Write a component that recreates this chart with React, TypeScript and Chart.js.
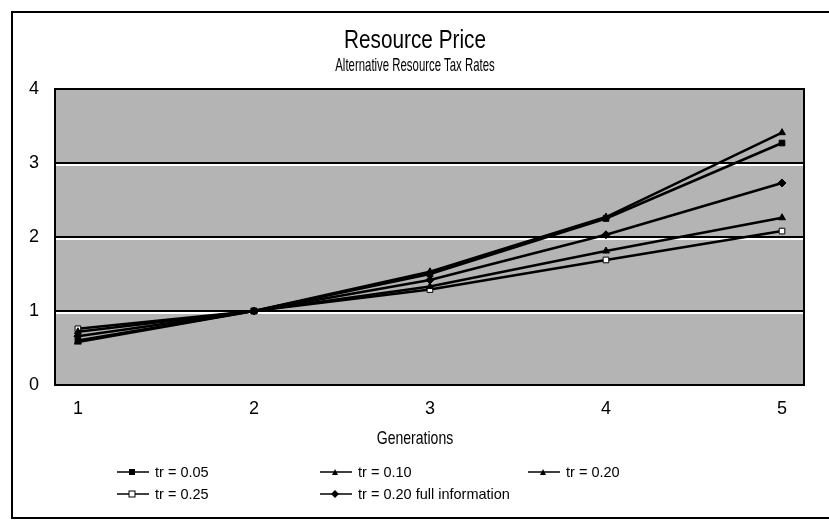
import React, { useEffect, useRef } from "react";
import { Chart, registerables } from "chart.js";

Chart.register(...registerables);

const generations = [1, 2, 3, 4, 5];
const xTickLabels = ["1", "2", "3", "4", "5"];
const yTickValues = [0, 1, 2, 3, 4];

const tr005 = [0.6, 1.0, 1.5, 2.25, 3.27];
const tr010 = [0.58, 1.0, 1.53, 2.27, 3.41];
const tr020 = [0.72, 1.0, 1.33, 1.81, 2.26];
const tr025 = [0.76, 1.0, 1.29, 1.69, 2.08];
const tr020full = [0.66, 1.0, 1.42, 2.03, 2.73];

const seriesNames = ["tr = 0.05", "tr = 0.10", "tr = 0.20", "tr = 0.25", "tr = 0.20 full information"];

const FONT = "'Liberation Sans', Arial, sans-serif";

const framePlugin = {
  id: "framePlugin",
  beforeDraw(chart: any) {
    const { ctx, chartArea } = chart;
    ctx.save();
    ctx.fillStyle = "#ffffff";
    ctx.fillRect(0, 0, chart.width, chart.height);
    ctx.strokeStyle = "#000";
    ctx.lineWidth = 2;
    ctx.beginPath();
    ctx.moveTo(12, 519);
    ctx.lineTo(12, 12);
    ctx.lineTo(829, 12);
    ctx.moveTo(12, 518);
    ctx.lineTo(829, 518);
    ctx.stroke();
    ctx.fillStyle = "#b4b4b4";
    ctx.fillRect(chartArea.left, chartArea.top, chartArea.right - chartArea.left, chartArea.bottom - chartArea.top);
    ctx.restore();
  },
  beforeDatasetsDraw(chart: any) {
    const { ctx, chartArea, scales } = chart;
    ctx.save();
    ctx.strokeStyle = "#fff";
    ctx.lineWidth = 2;
    yTickValues.slice(1, -1).forEach((v) => {
      const y = scales.y.getPixelForValue(v) + 2;
      ctx.beginPath();
      ctx.moveTo(chartArea.left, y);
      ctx.lineTo(chartArea.right, y);
      ctx.stroke();
    });
    ctx.restore();
  },
  afterDatasetsDraw(chart: any) {
    const { ctx, chartArea } = chart;
    ctx.save();
    ctx.strokeStyle = "#000";
    ctx.lineWidth = 2;
    ctx.strokeRect(chartArea.left, chartArea.top, chartArea.right - chartArea.left, chartArea.bottom - chartArea.top);
    ctx.restore();
  },
};

function LegendSample({ kind }: { kind: number }) {
  const m = (() => {
    switch (kind) {
      case 0:
        return <rect x={12} y={2} width={6} height={6} fill="#000" />;
      case 1:
        return <polygon points="15,2 18,8 12,8" fill="#000" />;
      case 2:
        return <polygon points="15,2 18,8 12,8" fill="#000" />;
      case 3:
        return <rect x={12} y={2} width={6} height={6} fill="#fff" stroke="#000" strokeWidth={1} />;
      default:
        return <polygon points="15,1 19,5 15,9 11,5" fill="#000" />;
    }
  })();
  return (
    <svg width={32} height={10} style={{ display: "block" }}>
      <line x1={0} y1={5} x2={32} y2={5} stroke="#000" strokeWidth={1.5} />
      {m}
    </svg>
  );
}

export default function App() {
  const ref = useRef<HTMLCanvasElement | null>(null);

  useEffect(() => {
    if (!ref.current) return;
    const mk = (label: string, data: number[], pointStyle: string, bg: string) => ({
      label,
      data: data.map((v, i) => ({ x: generations[i], y: v })),
      borderColor: "#000",
      backgroundColor: bg,
      pointBackgroundColor: bg,
      pointBorderColor: "#000",
      pointBorderWidth: 1,
      borderWidth: 2.5,
      pointStyle,
      pointRadius: 4,
      tension: 0,
    });
    const chart = new Chart(ref.current, {
      type: "line",
      data: {
        datasets: [
          mk(seriesNames[0], tr005, "rect", "#000"),
          mk(seriesNames[1], tr010, "triangle", "#000"),
          mk(seriesNames[2], tr020, "triangle", "#000"),
          mk(seriesNames[3], tr025, "rect", "#fff"),
          mk(seriesNames[4], tr020full, "rectRot", "#000"),
        ],
      },
      plugins: [framePlugin],
      options: {
        animation: false,
        responsive: false,
        layout: { padding: { top: 89, left: 0, right: 25, bottom: 66 } },
        plugins: {
          legend: { display: false },
          tooltip: { enabled: false },
          title: { display: false },
        },
        scales: {
          x: {
            type: "linear",
            min: 0.87,
            max: 5.125,
            afterBuildTicks: (scale: any) => {
              scale.ticks = generations.map((v) => ({ value: v }));
            },
            afterFit: (scale: any) => {
              scale.height = 70;
            },
            grid: { display: false, drawTicks: false },
            border: { display: true, color: "#000", width: 2 },
            ticks: {
              color: "#000",
              font: { family: FONT, size: 18 },
              padding: 13,
              callback: (v: any) => {
                const idx = generations.indexOf(Number(v));
                return idx >= 0 ? xTickLabels[idx] : "";
              },
            },
            title: { display: false },
          },
          y: {
            min: 0,
            max: 4,
            afterBuildTicks: (scale: any) => {
              scale.ticks = yTickValues.map((v) => ({ value: v }));
            },
            afterFit: (scale: any) => {
              scale.width = 55;
            },
            grid: { color: "#000", lineWidth: 2, drawTicks: false },
            border: { display: true, color: "#000", width: 2 },
            ticks: {
              color: "#000",
              font: { family: FONT, size: 18 },
              padding: 16,
            },
          },
        },
      },
    } as any);
    return () => chart.destroy();
  }, []);

  const legendItems = [
    { kind: 0, x: 117, y: 472 },
    { kind: 1, x: 320, y: 472 },
    { kind: 2, x: 528, y: 472 },
    { kind: 3, x: 117, y: 494 },
    { kind: 4, x: 320, y: 494 },
  ];

  const centered = (top: number, size: number, sx: number, text: string, lh: number) => (
    <div
      style={{
        position: "absolute",
        left: 0,
        width: 830,
        top,
        textAlign: "center",
        fontFamily: FONT,
        fontSize: size,
        color: "#000",
        lineHeight: lh + "px",
        transform: `scaleX(${sx})`,
        transformOrigin: "415px 0",
        whiteSpace: "nowrap",
      }}
    >
      {text}
    </div>
  );

  return (
    <div style={{ position: "absolute", left: 0, top: 0, width: 829, height: 521, background: "#fff" }}>
      <canvas ref={ref} width={829} height={521} style={{ position: "absolute", left: 0, top: 0 }} />
      {centered(25, 25, 0.83, "Resource Price", 28)}
      {centered(54, 19, 0.6, "Alternative Resource Tax Rates", 22)}
      {centered(427, 19, 0.74, "Generations", 22)}
      {legendItems.map((it, i) => (
        <div
          key={i}
          style={{
            position: "absolute",
            left: it.x,
            top: it.y - 8,
            height: 16,
            display: "flex",
            alignItems: "center",
            fontFamily: FONT,
            fontSize: 14.5,
            color: "#000",
            whiteSpace: "nowrap",
          }}
        >
          <LegendSample kind={it.kind} />
          <span style={{ marginLeft: 6 }}>{seriesNames[i]}</span>
        </div>
      ))}
    </div>
  );
}
